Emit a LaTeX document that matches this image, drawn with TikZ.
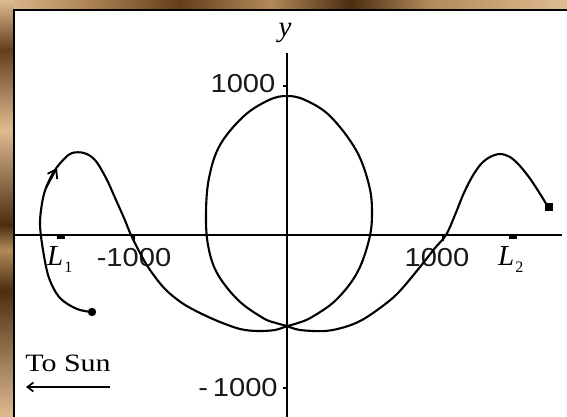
\documentclass[tikz,border=0pt]{standalone}
\usepackage{fontspec}
\usepackage{graphicx}
\setmainfont{Liberation Serif}
\setsansfont{Liberation Sans}
\usetikzlibrary{arrows.meta}
\definecolor{tanL}{RGB}{222,188,145}
\definecolor{tanM}{RGB}{178,138,90}
\definecolor{tanD}{RGB}{100,62,25}
\definecolor{tanX}{RGB}{75,45,15}
\begin{document}
\begin{tikzpicture}[x=1pt,y=-1pt,
  axisline/.style={line width=2.1pt,black},
  traj/.style={line width=2.1pt,black,line join=round,line cap=round},
  tickmark/.style={line width=1.8pt,black},
  numlbl/.style={font=\sffamily\fontsize{26}{26}\selectfont,inner sep=0pt,text=black!90},
  serlbl/.style={font=\rmfamily\fontsize{25}{25}\selectfont,inner sep=0pt},
  Llbl/.style={font=\rmfamily\itshape\fontsize{29}{29}\selectfont,inner sep=0pt}]
\useasboundingbox (0,0) rectangle (567,417);
% textured frame
\fill[tanM] (0,0) rectangle (567,417);
\shade[left color=tanL,right color=tanM] (0,0) rectangle (80,11);
\shade[left color=tanM,right color=tanD] (80,0) rectangle (180,11);
\shade[left color=tanD,right color=tanM] (180,0) rectangle (270,11);
\shade[left color=tanM,right color=tanX] (270,0) rectangle (350,11);
\shade[left color=tanX,right color=tanM] (350,0) rectangle (430,11);
\shade[left color=tanM,right color=tanL] (430,0) rectangle (567,11);
\shade[top color=tanL,bottom color=tanD] (0,0) rectangle (14,50);
\shade[top color=tanD,bottom color=tanL] (0,50) rectangle (14,130);
\shade[top color=tanL,bottom color=tanX] (0,130) rectangle (14,225);
\shade[top color=tanX,bottom color=tanM] (0,225) rectangle (14,250);
\shade[top color=tanM,bottom color=tanX] (0,250) rectangle (14,290);
\shade[top color=tanX,bottom color=tanL] (0,290) rectangle (14,417);
% white panel
\fill[white] (14,10) rectangle (567,417);
\draw[line width=2pt,black] (14,418) -- (14,10) -- (568,10);
% axes
\coordinate (xl) at (15,235);
\coordinate (xr) at (562,235);
\coordinate (yt) at (287,53);
\coordinate (yb) at (287,418);
\draw[axisline] (xl) -- (xr);
\draw[axisline] (yt) -- (yb);
% ticks
\draw[tickmark] (283,86) -- (287,86);
\draw[tickmark] (283,388) -- (287,388);
\fill (57,235) rectangle (65,239);
\fill (509,235) rectangle (517,239);
\draw[tickmark] (134,235) -- (134,241);
\draw[tickmark] (443,235) -- (443,241);
% labels
\node[Llbl] (ylab) at (285,33) {y};
\node[numlbl] (ypos) at (243,84) {\scalebox{1.12}[1]{1000}};
\node[numlbl] (yneg) at (238,388) {\scalebox{1.12}[1]{-\,1000}};
\node[numlbl] (xneg) at (134,258) {\scalebox{1.12}[1]{-1000}};
\node[numlbl] (xpos) at (437,258) {\scalebox{1.12}[1]{1000}};
\node[Llbl,anchor=west] (Lone) at (47,260) {L\kern1pt{\upshape\fontsize{16}{16}\selectfont\raisebox{-7pt}{1}}};
\node[Llbl,anchor=west] (Ltwo) at (498,260) {L\kern1pt{\upshape\fontsize{16}{16}\selectfont\raisebox{-7pt}{2}}};
\node[serlbl] (sun) at (68,363) {\scalebox{1.2}[1]{To Sun}};
\coordinate (sunA) at (110,387);
\coordinate (sunB) at (26,387);
\draw[line width=1.7pt,-{Straight Barb[length=6pt,width=9pt]}] (sunA) -- (sunB);
% trajectory: L1 part
\draw[traj] plot[smooth,tension=0.55] coordinates {
 (92,312) (77,309) (60,298) (49,278) (43,250) (40,223) (43,198) (48,183)
 (55,170) (64,159) (72,153) (84,153) (95,160) (106,178) (116,200) (124,218)
 (131,235) (140,253) (150,270) (165,289) (182,303) (200,313) (220,322)
 (240,329) (257,331) (275,330) (287,326)};
% loop
\draw[traj] plot[smooth,tension=0.6] coordinates {
 (287,326) (298,323) (312,317) (336,300) (357,273) (369,240) (372,213)
 (369,185) (356,150) (330,116) (305,100) (287,96) (269,100) (244,116)
 (220,145) (209,178) (206,213) (208,245) (217,273) (238,300) (263,318)
 (276,323) (287,326)};
% L2 part
\draw[traj] plot[smooth,tension=0.55] coordinates {
 (287,326) (300,330) (325,331) (345,327) (362,320) (380,308) (398,293)
 (420,267) (435,248) (446,235) (455,215) (463,195) (472,177) (481,164)
 (490,157) (500,154) (510,157) (520,166) (531,180) (542,197) (548,207)};
% markers
\fill (92,312) circle (4.2pt);
\fill (545,203) rectangle (553,211);
\draw[line width=1.8pt,-{Straight Barb[length=8pt,width=11pt]}] (46,188) -- (57,168);
\end{tikzpicture}
\end{document}
